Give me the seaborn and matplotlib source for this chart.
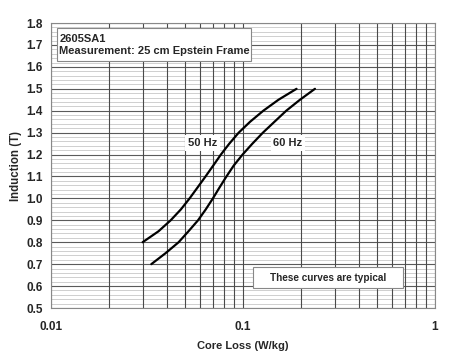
import matplotlib
matplotlib.use("Agg")
import matplotlib.pyplot as plt
import numpy as np
import pandas as pd
import seaborn as sns
from matplotlib.patches import Rectangle
from matplotlib.ticker import FixedLocator, NullFormatter

# core loss curves
ind_50 = [0.80, 0.85, 0.90, 0.95, 1.00, 1.05, 1.10, 1.15, 1.20, 1.25, 1.30, 1.35, 1.40, 1.45, 1.50]
loss_50 = [0.030, 0.0363, 0.0420, 0.0475, 0.0527, 0.058, 0.0638, 0.0700, 0.0767, 0.0849,
           0.095, 0.109, 0.1276, 0.153, 0.190]
ind_60 = [0.70, 0.75, 0.80, 0.85, 0.90, 0.95, 1.00, 1.05, 1.10, 1.15, 1.20, 1.25, 1.30,
          1.35, 1.40, 1.45, 1.50]
loss_60 = [0.0333, 0.0395, 0.0462, 0.052, 0.0583, 0.064, 0.0697, 0.0755, 0.082, 0.0895,
           0.0995, 0.112, 0.127, 0.146, 0.168, 0.198, 0.237]

x_ticks = [0.01, 0.1, 1]
x_tick_labels = ["0.01", "0.1", "1"]
y_ticks = [0.5, 0.6, 0.7, 0.8, 0.9, 1.0, 1.1, 1.2, 1.3, 1.4, 1.5, 1.6, 1.7, 1.8]

df = pd.concat([
    pd.DataFrame({"loss": loss_50, "ind": ind_50, "freq": "50 Hz"}),
    pd.DataFrame({"loss": loss_60, "ind": ind_60, "freq": "60 Hz"}),
])

sns.set_style("white")
plt.rcParams["font.family"] = ["Liberation Sans", "DejaVu Sans"]
plt.rcParams["font.weight"] = "bold"

fig = plt.figure(figsize=(4.7, 3.63), dpi=100)
ax = fig.add_axes([0.1085, 0.1515, 0.817, 0.785])

sns.lineplot(data=df, x="loss", y="ind", units="freq", estimator=None,
             color="black", linewidth=1.6, sort=False, ax=ax, zorder=5)

ax.set_xscale("log")
ax.set_xlim(0.01, 1)
ax.set_ylim(0.5, 1.8)

ax.set_xticks(x_ticks)
ax.set_xticklabels(x_tick_labels)
ax.xaxis.set_minor_locator(FixedLocator([m * d for d in (0.01, 0.1) for m in range(2, 10)]))
ax.xaxis.set_minor_formatter(NullFormatter())
ax.set_yticks(y_ticks)
ax.set_yticklabels([f"{v:.1f}" for v in y_ticks])
ax.yaxis.set_minor_locator(FixedLocator(np.arange(0.5, 1.8001, 0.02)))

ax.grid(True, axis="x", which="both", color="#4a4a4a", linewidth=0.8)
ax.grid(True, axis="y", which="major", color="#5a5a5a", linewidth=0.8)
ax.grid(True, axis="y", which="minor", color="#c8c8c8", linewidth=0.6)
ax.set_axisbelow(True)
# vertical lines above the light horizontal ones
ax.yaxis.set_zorder(0.5)
ax.xaxis.set_zorder(0.6)

ax.tick_params(axis="both", which="both", length=0, labelsize=8.5)
ax.tick_params(axis="y", pad=6)
ax.tick_params(axis="x", pad=9)
for lab in ax.get_xticklabels() + ax.get_yticklabels():
    lab.set_fontweight("bold")
for s in ax.spines.values():
    s.set_color("#888888")
    s.set_linewidth(0.8)

ax.set_xlabel("Core Loss (W/kg)", fontsize=8, fontweight="bold", labelpad=6)
ax.set_ylabel("Induction (T)", fontsize=8.3, fontweight="bold", labelpad=3)

ax.text(0.0614, 1.253, "50 Hz", fontsize=8, fontweight="bold", ha="center", va="center",
        bbox=dict(facecolor="white", edgecolor="none", pad=2), zorder=6)
ax.text(0.1716, 1.253, "60 Hz", fontsize=8, fontweight="bold", ha="center", va="center",
        bbox=dict(facecolor="white", edgecolor="none", pad=2), zorder=6)

# annotation boxes
ax.add_patch(Rectangle((0.0156, 0.8667), 0.504, 0.1153, transform=ax.transAxes,
                       facecolor="white", edgecolor="#888888", linewidth=0.8, zorder=6))
ax.text(0.022, 0.924, "2605SA1\nMeasurement: 25 cm Epstein Frame", transform=ax.transAxes,
        fontsize=8, fontweight="bold", ha="left", va="center", linespacing=1.3, zorder=7)

ax.add_patch(Rectangle((0.526, 0.070), 0.391, 0.074, transform=ax.transAxes,
                       facecolor="white", edgecolor="#888888", linewidth=0.8, zorder=6))
ax.text(0.7214, 0.107, "These curves are typical", transform=ax.transAxes, fontsize=7.2,
        fontweight="bold", ha="center", va="center", zorder=7)

if ax.get_legend() is not None:
    ax.get_legend().remove()

fig.savefig("out.png", dpi=100)
